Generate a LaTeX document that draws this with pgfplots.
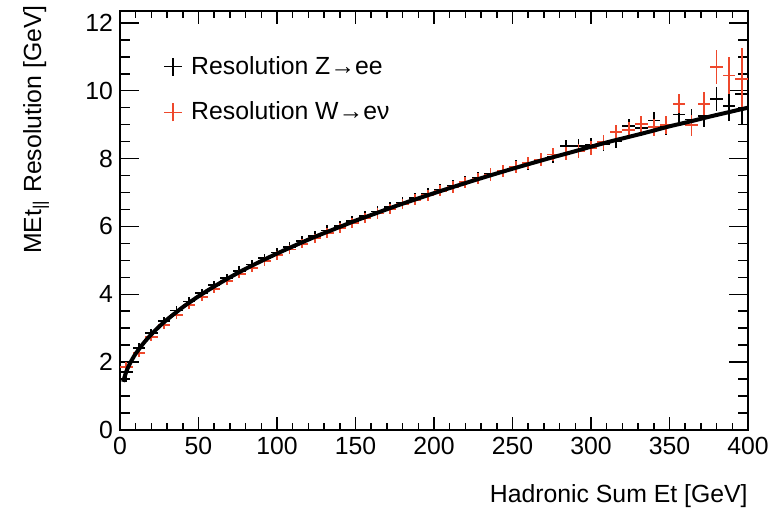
\documentclass[border=0pt]{standalone}
\usepackage{pgfplots}
\pgfplotsset{compat=1.18}
\usepackage{pgfplotstable}
\usepackage{fontspec}
\setmainfont{Liberation Sans}
\definecolor{rootred}{RGB}{238,72,44}

\pgfplotstableread{
x y ex ey
4 1.72 4 0.30
12 2.42 4 0.13
20 2.86 4 0.13
28 3.21 4 0.13
36 3.52 4 0.13
44 3.79 4 0.13
52 4.04 4 0.13
60 4.27 4 0.13
68 4.48 4 0.13
76 4.69 4 0.13
84 4.88 4 0.13
92 5.06 4 0.13
100 5.23 4 0.14
108 5.40 4 0.14
116 5.57 4 0.14
124 5.72 4 0.14
132 5.88 4 0.15
140 6.02 4 0.15
148 6.17 4 0.15
156 6.30 4 0.15
164 6.44 4 0.16
172 6.57 4 0.16
180 6.70 4 0.16
188 6.83 4 0.16
196 6.95 4 0.17
204 7.08 4 0.17
212 7.19 4 0.17
220 7.31 4 0.17
228 7.43 4 0.18
236 7.54 4 0.18
244 7.64 4 0.18
252 7.76 4 0.19
260 7.86 4 0.19
268 7.96 4 0.19
276 8.06 4 0.20
284 8.36 4 0.20
292 8.38 4 0.21
300 8.40 4 0.21
308 8.43 4 0.22
316 8.52 4 0.22
324 8.95 4 0.23
332 8.90 4 0.24
340 9.12 4 0.25
348 8.95 4 0.26
356 9.30 4 0.28
364 9.15 4 0.30
372 9.25 4 0.32
380 9.75 4 0.35
388 9.55 4 0.45
396 9.90 4 0.90
}\zee

\pgfplotstableread{
x y ex ey
4 1.85 4 0.14
12 2.28 4 0.12
20 2.74 4 0.12
28 3.10 4 0.12
36 3.40 4 0.12
44 3.68 4 0.12
52 3.93 4 0.12
60 4.16 4 0.12
68 4.38 4 0.12
76 4.59 4 0.12
84 4.78 4 0.12
92 4.97 4 0.13
100 5.15 4 0.13
108 5.32 4 0.13
116 5.49 4 0.13
124 5.65 4 0.14
132 5.80 4 0.14
140 5.95 4 0.14
148 6.10 4 0.14
156 6.25 4 0.15
164 6.38 4 0.15
172 6.52 4 0.15
180 6.66 4 0.15
188 6.79 4 0.16
196 6.92 4 0.16
204 7.05 4 0.16
212 7.17 4 0.17
220 7.30 4 0.17
228 7.41 4 0.17
236 7.53 4 0.18
244 7.64 4 0.18
252 7.75 4 0.18
260 7.87 4 0.19
268 7.97 4 0.19
276 8.12 4 0.20
284 8.15 4 0.20
292 8.22 4 0.21
300 8.32 4 0.21
308 8.48 4 0.22
316 8.78 4 0.22
324 8.85 4 0.23
332 9.02 4 0.24
340 8.92 4 0.25
348 8.98 4 0.27
356 9.62 4 0.29
364 8.98 4 0.31
372 9.62 4 0.34
380 10.70 4 0.50
388 10.45 4 0.55
396 10.35 4 0.90
}\wen

\pgfplotstableread{
x y
2 1.42
4 1.72
6 1.93
8 2.10
10 2.25
15 2.56
20 2.82
25 3.05
30 3.255
40 3.62
50 3.94
60 4.23
70 4.50
80 4.75
90 4.98
100 5.20
112 5.45
125 5.71
137 5.93
150 6.17
162 6.37
175 6.59
187 6.78
200 6.98
212 7.16
225 7.35
237 7.52
250 7.70
262 7.86
275 8.03
287 8.18
300 8.35
312 8.50
325 8.65
337 8.79
350 8.95
362 9.08
375 9.23
387 9.36
400 9.50
}\fit

\begin{document}
\begin{tikzpicture}
\begin{axis}[
  scale only axis, width=314pt, height=209.5pt,
  xmin=0, xmax=400, ymin=0, ymax=12.35,
  xtick={0,50,...,400}, ytick={0,2,...,12},
  minor x tick num=4, minor y tick num=3,
  tick align=inside,
  xtick style={/pgfplots/major tick length=6.5pt, /pgfplots/minor tick length=3.3pt},
  ytick style={/pgfplots/major tick length=9.5pt, /pgfplots/minor tick length=4.8pt},
  tick style={black, line width=0.75pt},
  axis line style={line width=0.75pt},
  /pgf/number format/assume math mode=true,
  ticklabel style={font=\fontsize{12.4}{14}\selectfont},
  label style={font=\fontsize{12.4}{14}\selectfont},
  xlabel={Hadronic Sum Et [GeV]},
  ylabel={MEt\textsubscript{||} Resolution [GeV]},
  xlabel style={at={(rel axis cs:1,-0.1742)}, anchor=base east, inner sep=0pt},
  ylabel style={at={(rel axis cs:-0.1258,1.0143)}, anchor=base east, inner sep=0pt},
  legend style={draw=none, fill=none, at={(rel axis cs:0.0685,0.903)}, anchor=north west,
    inner sep=0pt, row sep=8.5pt, column sep=2pt, font=\fontsize{12.4}{14}\selectfont},
  legend cell align=left,
]
\addplot[black, only marks, mark=*, mark size=0pt, mark options={draw=none, fill=none},
  legend image code/.code={\draw[black,line width=0.9pt] (-4.5pt,0pt)--(4.5pt,0pt) (0pt,-4.5pt)--(0pt,4.5pt);},
  error bars/.cd, x dir=both, x explicit, y dir=both, y explicit, error mark=none,
  error bar style={line width=0.9pt, draw=black}]
  table[x=x, y=y, x error=ex, y error=ey] {\zee};
\addlegendentry{Resolution Z→ee}
\addplot[rootred, only marks, mark=*, mark size=0pt, mark options={draw=none, fill=none},
  legend image code/.code={\draw[rootred,line width=0.9pt] (-4.5pt,0pt)--(4.5pt,0pt) (0pt,-4.5pt)--(0pt,4.5pt);},
  error bars/.cd, x dir=both, x explicit, y dir=both, y explicit, error mark=none,
  error bar style={line width=0.9pt, draw=rootred}]
  table[x=x, y=y, x error=ex, y error=ey] {\wen};
\addlegendentry{Resolution W→eν}
\addplot[black, line width=2pt, smooth, forget plot] table[x=x, y=y] {\fit};
\end{axis}
\pgfresetboundingbox
\path ([shift={(-60pt,-41pt)}]current axis.south west) rectangle ([shift={(11.5pt,5.5pt)}]current axis.north east);
\end{tikzpicture}
\end{document}
